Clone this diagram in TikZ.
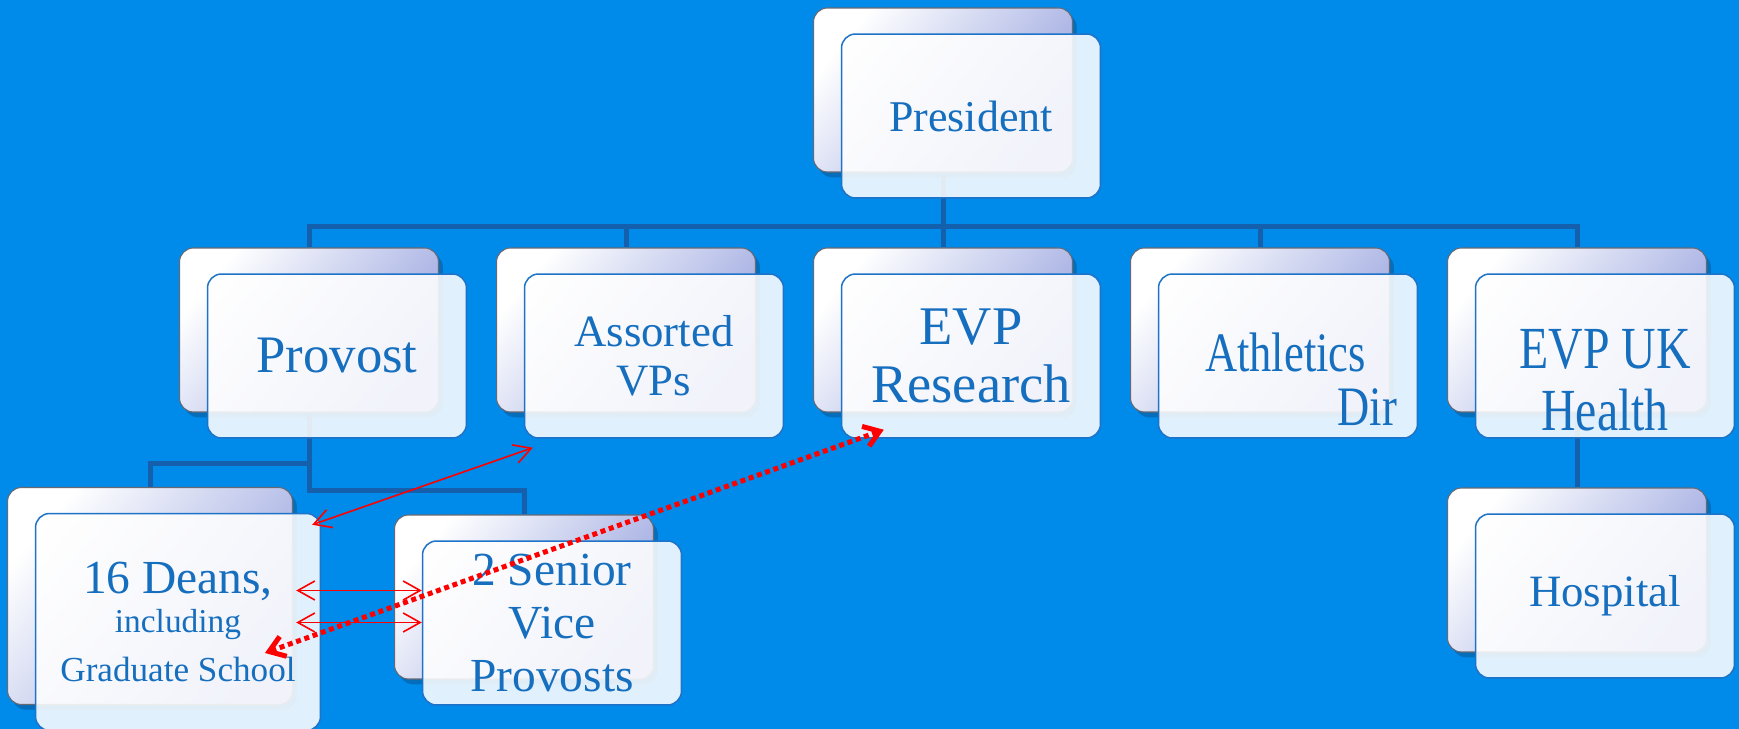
\documentclass[tikz,border=0pt]{standalone}
\usepackage{fontspec}
\setmainfont{Liberation Serif}
\newfontfamily\narrowfont[FakeStretch=0.8]{Liberation Serif}
\usepackage{tikz}
\usetikzlibrary{arrows.meta, calc, shadows}
\definecolor{bgBlue}{RGB}{0,138,233}
\definecolor{lineBlue}{RGB}{20,96,172}
\definecolor{textBlue}{RGB}{22,110,190}
\definecolor{edgeBlue}{RGB}{30,115,200}
\definecolor{cardLav}{RGB}{150,162,222}
\definecolor{cardGray}{RGB}{105,105,115}
\definecolor{linkRed}{RGB}{255,0,0}

\begin{document}
\begin{tikzpicture}[x=0.02cm, y=-0.02cm,
    backcard/.style={draw=cardGray, line width=0.6pt, rounded corners=0.28cm,
      minimum width=5.18cm, minimum height=3.28cm, inner sep=0pt,
      top color=white, bottom color=cardLav, shading angle=50,
      drop shadow={opacity=0.35, shadow xshift=2.5pt, shadow yshift=-3pt, fill=lineBlue!60!black}},
    card/.style={draw=edgeBlue, line width=0.85pt, rounded corners=0.28cm,
      fill=white, fill opacity=0.88, text opacity=1, text=textBlue,
      minimum width=5.18cm, minimum height=3.28cm, inner sep=0pt, align=center},
    cardtext/.style={text=textBlue, inner sep=0pt, align=center},
    conn/.style={lineBlue, line width=0.1cm},
    link/.style={linkRed, line width=0.032cm,
      {Straight Barb[length=0.34cm,width=0.38cm]}-{Straight Barb[length=0.34cm,width=0.38cm]}},
    dotlink/.style={linkRed, line width=0.1cm, dash pattern=on 0.1cm off 0.075cm,
      {Straight Barb[length=0.3cm,width=0.42cm]}-{Straight Barb[length=0.3cm,width=0.42cm]}}]
        \useasboundingbox (0,0) rectangle (1739,729);
        \fill[bgBlue] (0,0) rectangle (1739,729);

        % Back cards
        \node[backcard] (presB) at (943,90) {};
        \node[backcard] (provB) at (309,330) {};
        \node[backcard] (vpsB) at (626,330) {};
        \node[backcard] (resB) at (943,330) {};
        \node[backcard] (athB) at (1260,330) {};
        \node[backcard] (ukB) at (1577,330) {};
        \node[backcard, minimum width=5.7cm, minimum height=4.34cm] (deansB) at (150,596) {};
        \node[backcard] (svpB) at (524,597) {};
        \node[backcard] (hospB) at (1577,570) {};

        % Connectors
        \coordinate (busmid) at ($(presB.south)+(0,54)$);
        \draw[conn] (presB.south) -- (busmid);
        \foreach \b in {provB,vpsB,resB,athB,ukB}
          \draw[conn] (busmid) -| (\b.north);
        \coordinate (provfork) at ($(provB.south)+(0,51)$);
        \coordinate (provend) at ($(provB.south)+(0,78)$);
        \draw[conn] (provB.south) -- (provend) -| (svpB.north);
        \draw[conn] (provfork) -| (deansB.north);
        \draw[conn] (ukB.south) -- (hospB.north);

        % Front cards
        \node[card, font=\fontsize{25}{28}\selectfont] (pres) at ($(presB)+(28,26)$) {President};
        \node[card, font=\fontsize{30}{34}\selectfont] (prov) at ($(provB)+(28,26)$) {Provost};
        \node[card, font=\fontsize{25.5}{27.8}\selectfont] (vps) at ($(vpsB)+(28,26)$) {Assorted\\VPs};
        \node[card, font=\fontsize{31}{33}\selectfont] (res) at ($(resB)+(28,26)$) {EVP\\Research};
        \node[card] (ath) at ($(athB)+(28,26)$) {};
        \node[cardtext, font=\narrowfont\fontsize{31.7}{31}\selectfont] (athtxt) at ($(ath)+(13,23)$)
          {\makebox[3.84cm][l]{Athletics}\\\makebox[3.84cm][r]{Dir}};
        \node[card] (uk) at ($(ukB)+(28,26)$) {};
        \node[cardtext, font=\narrowfont\fontsize{34}{35}\selectfont] (uktxt) at ($(uk)+(0,24)$)
          {EVP UK\\Health};
        \node[card, minimum width=5.7cm, minimum height=4.34cm, font=\fontsize{19}{22}\selectfont]
          (deans) at ($(deansB)+(28,26)$)
          {{\fontsize{27}{30}\selectfont 16 Deans,}\\including\\[5.8pt]{\fontsize{20}{22}\selectfont Graduate School}};
        \node[card, font=\fontsize{27}{30}\selectfont] (svp) at ($(svpB)+(28,26)$) {2 Senior\\Vice\\Provosts};
        \node[card, font=\fontsize{25.5}{28}\selectfont] (hosp) at ($(hospB)+(28,26)$) {Hospital};

        % Red links
        \coordinate (l0a) at ($(deans.north east)+(-9,12)$);
        \coordinate (l0b) at ($(vps.south west)+(9,9)$);
        \draw[link] (l0a) -- (l0b);
        \coordinate (l1) at ($(deans.east)+(-25,-31.5)$);
        \draw[link] (l1) -- (l1 -| svp.west);
        \coordinate (l2) at ($(deans.east)+(-25,0.5)$);
        \draw[link] (l2) -- (l2 -| svp.west);
        \coordinate (d0) at ($(deans)+(87,31)$);
        \coordinate (d1) at ($(res.south west)+(43,-9)$);
        \draw[dotlink] (d0) -- (d1);
      \end{tikzpicture}
\end{document}
